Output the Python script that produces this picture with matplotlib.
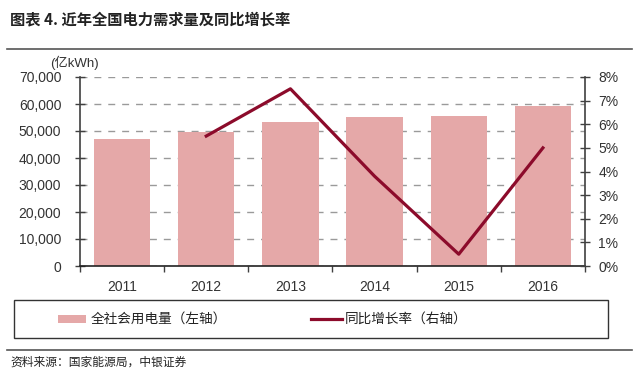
import matplotlib
matplotlib.use("Agg")
import matplotlib.pyplot as plt
from matplotlib.patches import Rectangle
from matplotlib.lines import Line2D
from matplotlib.ticker import FuncFormatter, FixedLocator

plt.rcParams['font.family'] = ['Liberation Sans', 'Noto Sans CJK SC', 'DejaVu Sans']

years = ["2011", "2012", "2013", "2014", "2015", "2016"]
consumption = [47000, 49591, 53223, 55233, 55500, 59198]
growth_years = ["2012", "2013", "2014", "2015", "2016"]
growth = [5.5, 7.5, 3.8, 0.5, 5.0]

left_ticks = [0, 10000, 20000, 30000, 40000, 50000, 60000, 70000]
right_ticks = [0, 1, 2, 3, 4, 5, 6, 7, 8]

title = "图表 4. 近年全国电力需求量及同比增长率"
unit = "(亿kWh)"
bar_label = "全社会用电量（左轴）"
line_label = "同比增长率（右轴）"
source = "资料来源：国家能源局，中银证券"

bar_color = "#E5A8A8"
line_color = "#8C0B2B"
spine_color = "#404040"
text_color = "#333333"

W, H = 640, 374
fig = plt.figure(figsize=(W / 100, H / 100), dpi=100)
ax = fig.add_axes([80 / W, 1 - 266 / H, (585 - 80) / W, (266 - 77) / H])

x = list(range(len(years)))
ax.bar(x, consumption, width=0.67, color=bar_color, zorder=2)
ax.set_xlim(-0.5, len(years) - 0.5)
ax.set_ylim(0, 70000)
ax.set_yticks(left_ticks)
ax.yaxis.set_major_formatter(FuncFormatter(lambda v, p: f"{int(v):,}"))
ax.set_xticks(x)
ax.set_xticklabels(years)
ax.xaxis.set_minor_locator(FixedLocator([i + 0.5 for i in range(-1, len(years))]))
ax.tick_params(axis='x', which='major', length=0, pad=10, labelsize=10, labelcolor=text_color)
ax.tick_params(axis='x', which='minor', length=4, width=1, direction='out', color=spine_color)
ax.tick_params(axis='y', which='major', length=7, width=1, direction='inout', pad=10,
               labelsize=10, labelcolor=text_color, color=spine_color)
ax.grid(axis='y', linestyle=(0, (5, 5)), color='#9a9a9a', linewidth=1)
ax.set_axisbelow(True)
for s in ['top', 'right']:
    ax.spines[s].set_visible(False)
ax.spines['left'].set_color(spine_color)
ax.spines['left'].set_linewidth(1.2)
ax.spines['bottom'].set_color('#222222')
ax.spines['bottom'].set_linewidth(1.2)

ax2 = ax.twinx()
gx = [years.index(y) for y in growth_years]
ax2.plot(gx, growth, color=line_color, linewidth=2.3, zorder=5)
ax2.set_ylim(0, 8)
ax2.set_yticks(right_ticks)
ax2.yaxis.set_major_formatter(FuncFormatter(lambda v, p: f"{int(v)}%"))
ax2.tick_params(axis='y', which='major', length=7, width=1, direction='inout', pad=6,
                labelsize=10, labelcolor=text_color, color=spine_color)
for s in ['top', 'left', 'bottom']:
    ax2.spines[s].set_visible(False)
ax2.spines['right'].set_color(spine_color)
ax2.spines['right'].set_linewidth(1.2)

cjk = ['Noto Sans CJK SC', 'DejaVu Sans']
fig.text(10 / W, 1 - 19 / H, title, fontsize=11, fontweight='bold', family=cjk,
         color='#222222', va='center', ha='left')
fig.add_artist(Line2D([7 / W, 632 / W], [1 - 49 / H, 1 - 49 / H], color='#555555', linewidth=1.2))
fig.text(50 / W, 1 - 63 / H, unit, fontsize=9.5, family=['Liberation Sans', 'Noto Sans CJK SC'],
         color=text_color, va='center', ha='left')

# legend box
fig.add_artist(Rectangle((14 / W, 1 - 338 / H), 594 / W, 38 / H, fill=False,
                         edgecolor='#333333', linewidth=1.0, transform=fig.transFigure))
fig.add_artist(Rectangle((58 / W, 1 - 323 / H), 28 / W, 8 / H, facecolor=bar_color,
                         edgecolor='none', transform=fig.transFigure))
fig.text(91 / W, 1 - 319 / H, bar_label, fontsize=9.8, family=cjk, color='#222222',
         va='center', ha='left')
fig.add_artist(Line2D([311 / W, 342 / W], [1 - 319 / H, 1 - 319 / H], color=line_color, linewidth=2.3))
fig.text(345 / W, 1 - 319 / H, line_label, fontsize=9.8, family=cjk, color='#222222',
         va='center', ha='left')

fig.add_artist(Line2D([7 / W, 632 / W], [1 - 350 / H, 1 - 350 / H], color='#555555', linewidth=1.2))
fig.text(10 / W, 1 - 362 / H, source, fontsize=8.5, family=cjk, color='#222222',
         va='center', ha='left')

fig.savefig("out.png", dpi=100)
